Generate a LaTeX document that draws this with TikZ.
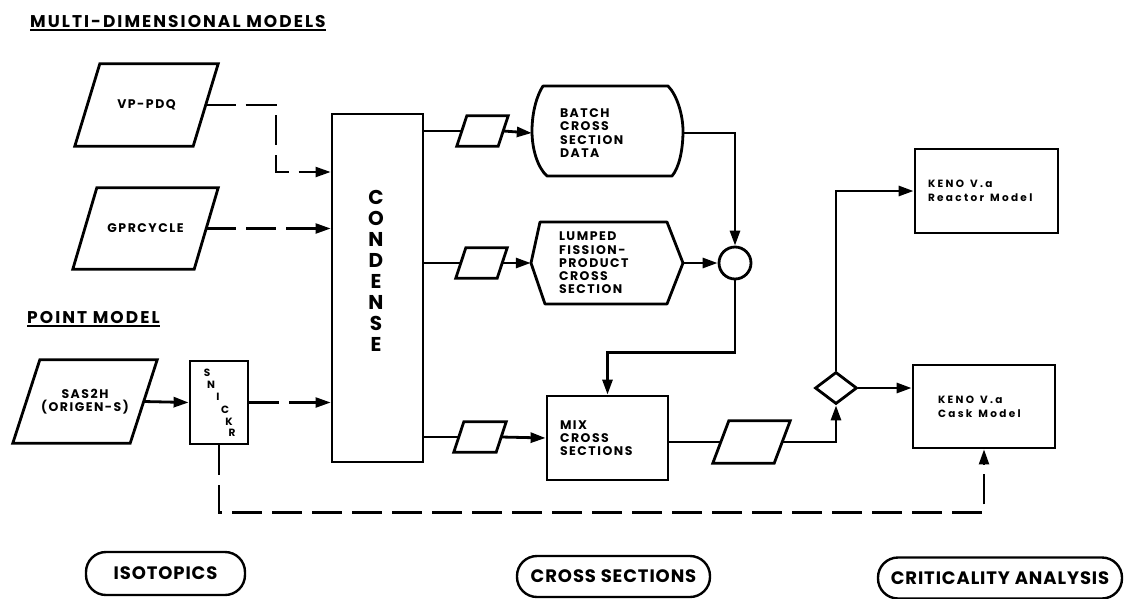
\documentclass[tikz,border=0pt]{standalone}
\usepackage{fontspec}
\setmainfont{Poppins}
\usetikzlibrary{arrows.meta,shapes.geometric,calc}
\newcommand\mytitle{\bfseries\fontsize{17}{17}\selectfont\addfontfeature{LetterSpace=12}}
\newcommand\mytxt{\bfseries\fontsize{12.5}{13.3}\selectfont\addfontfeature{LetterSpace=12}}
\newcommand\myketx{\bfseries\fontsize{10.5}{14}\selectfont\addfontfeature{LetterSpace=22}}
\newcommand\mylab{\bfseries\fontsize{18}{18}\selectfont\addfontfeature{LetterSpace=5}}
\newcommand\mygap{\hspace{6pt}}
\newcommand\parashape[2]{\draw[plain,line join=miter] ([xshift=#2/2]#1.north west) -- ([xshift=#2/2]#1.north east) -- ([xshift=-#2/2]#1.south east) -- ([xshift=-#2/2]#1.south west) -- cycle;}
\begin{document}
\begin{tikzpicture}[x=1pt,y=-1pt,
  box/.style={draw,line width=2.8pt,inner sep=0pt},
  para/.style={inner sep=0pt,align=center,font=\mytxt},
  tip/.style={-{Triangle[length=15pt,width=10pt]}},
  plain/.style={line width=2.8pt},
  link/.style={plain,tip},
  dlink/.style={line width=2.2pt,dash pattern=on 30pt off 10pt,tip},
  lab/.style={draw,line width=2.4pt,rounded corners=20pt,inner sep=0pt,font=\mylab},
  ghost/.style={inner sep=0pt,align=left,font=\mytxt}
]
\useasboundingbox (0,0) rectangle (1125,598);
% titles
\node[anchor=base west,font=\mytitle,inner sep=0pt] (t1) at (30,27) {MULTI-DIMENSIONAL MODELS};
\draw[line width=2pt] ([yshift=-3pt]t1.base west) -- ([yshift=-3pt]t1.base east);
\node[anchor=base west,font=\mytitle,inner sep=0pt] (t2) at (27,323) {POINT MODEL};
\draw[line width=2pt] ([yshift=-3pt]t2.base west) -- ([yshift=-3pt]t2.base east);
% inputs
\node[para,minimum width=118,minimum height=82] (vp) at (146.5,105) {VP-PDQ};
\parashape{vp}{25}
\node[para,minimum width=121,minimum height=81] (gpr) at (145.5,228.5) {GPRCYCLE};
\parashape{gpr}{24}
\node[para,minimum width=117,minimum height=83] (sas) at (85,401.5) {SAS2H\\(ORIGEN-S)};
\parashape{sas}{27}
\node[box,minimum width=58,minimum height=83] (snick) at (219,402.5) {};
\foreach \l/\xx/\yy [count=\i] in {S/207/373,N/211/385,I/218/397,C/225/410,K/229/422,R/232/433}
  \node[inner sep=0pt,font=\bfseries\fontsize{10.5}{10.5}\selectfont] (sn\i) at (\xx,\yy) {\l};
% condense
\node[box,minimum width=91,minimum height=348] (cond) at (377.5,288) {};
\node[inner sep=0pt,align=center,font=\bfseries\fontsize{20}{21.1}\selectfont] (condtxt) at (376,271) {C\\O\\N\\D\\E\\N\\S\\E};
% small parallelograms
\node[para,minimum width=41,minimum height=30] (p1) at (482.5,131) {};
\parashape{p1}{10}
\node[para,minimum width=41,minimum height=30] (p2) at (481.5,263) {};
\parashape{p2}{10}
\node[para,minimum width=42,minimum height=30] (p3) at (480,437) {};
\parashape{p3}{10}
\node[para,minimum width=61,minimum height=42] (p4) at (751.5,442) {};
\parashape{p4}{16}
% batch
\node[ghost,minimum width=151,minimum height=90,text width=95] (batch) at (607.5,133) {BATCH\\CROSS\\SECTION\\DATA};
\draw[plain,line join=round] (543,86) -- (668,86) .. controls (677,95) and (683,115) .. (683,131) .. controls (683,150) and (679,168) .. (672,176) -- (547,176) .. controls (538,168) and (532,150) .. (532,131) .. controls (532,112) and (537,95) .. (543,86) -- cycle;
% lumped
\node[ghost,minimum width=152,minimum height=82,text width=96] (lump) at (607,263) {LUMPED\\FISSION-\\PRODUCT\\CROSS\\SECTION};
\draw[plain,line join=round] (540,222) -- (667,222) -- (683,263) -- (667,304) -- (545,304) -- (531,263) -- cycle;
% sum circle
\node[circle,draw,line width=2.8pt,minimum size=32,inner sep=0pt] (sum) at (735,263) {};
% mix
\node[box,minimum width=121,minimum height=84,text width=95,align=left,font=\mytxt] (mix) at (607.5,438) {MIX\\CROSS\\SECTIONS};
% decision
\node[diamond,draw,line width=2.8pt,minimum width=42,minimum height=32,inner sep=0pt] (dia) at (836,388) {};
% keno
\node[box,minimum width=143,minimum height=84,text width=117,align=left,font=\myketx] (reac) at (986.5,191) {KENO\mygap V.a\\Reactor\mygap Model};
\node[box,minimum width=142,minimum height=83,text width=92,align=left,font=\myketx] (cask) at (984,406.5) {KENO\mygap V.a\\Cask\mygap Model};
% bottom labels
\node[lab,minimum width=159,minimum height=43] (iso) at (165.5,573.5) {ISOTOPICS};
\node[lab,minimum width=193,minimum height=41] (cs) at (613.5,576.5) {CROSS SECTIONS};
\node[lab,minimum width=244,minimum height=41] (ca) at (1000,578) {CRITICALITY ANALYSIS};
% connectors
\coordinate (vpin) at (cond.west |- 0,172);
\draw[dlink] (vp.east) -| ([xshift=-55pt]vpin) -- (vpin);
\draw[dlink] (gpr.east) -- (gpr.east -| cond.west);
\draw[link] (sas.east) -- (snick.west);
\draw[dlink] (snick.east) -- (snick.east -| cond.west);
\draw[dlink] (snick.south) -- ++(0,67) -| (cask.south);
\draw[plain] (p1.west -| cond.east) -- (p1.west);
\draw[link] (p1.east) -- (batch.west);
\draw[plain] (p2.west -| cond.east) -- (p2.west);
\draw[link] (p2.east) -- (lump.west);
\draw[plain] (p3.west -| cond.east) -- (p3.west);
\draw[link] (p3.east) -- (mix.west);
\draw[link] (batch.east) -| (sum.north);
\draw[link] (lump.east) -- (sum.west);
\draw[link] (sum.south) -- ++(0,72) -| (mix.north);
\draw[plain] (mix.east |- p4.west) -- (p4.west);
\draw[link] (p4.east) -| (dia.south);
\draw[link] (dia.north) |- (reac.west);
\draw[link] (dia.east) -- (dia.east -| cask.west);
\end{tikzpicture}
\end{document}
